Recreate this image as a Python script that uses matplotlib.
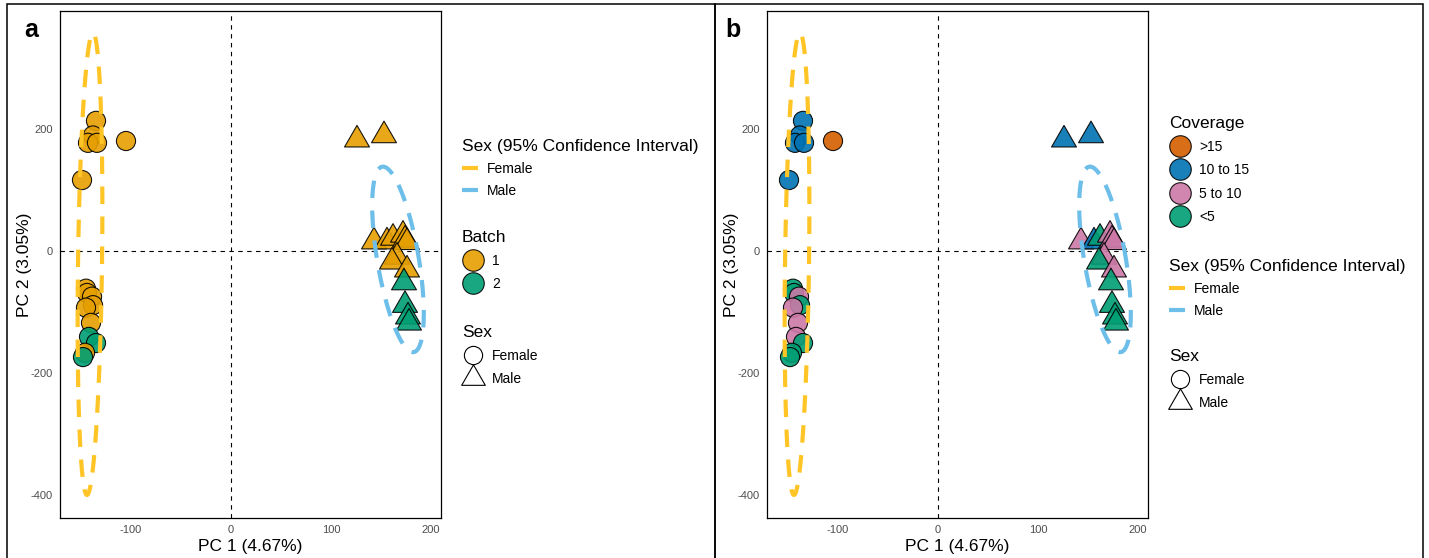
import numpy as np
import matplotlib
matplotlib.use('Agg')
import matplotlib.pyplot as plt
from matplotlib.lines import Line2D
from matplotlib.path import Path
from matplotlib.patches import Rectangle

plt.rcParams['font.family'] = ['Liberation Sans', 'DejaVu Sans']
plt.rcParams['axes.unicode_minus'] = False

W, H = 1429, 558

# samples (PC scores)
pc1 = [-135, -138, -143, -134, -105, -149, -145, -144, -139, -138, -145, -140, -142, -135, -146, -148,
       126, 153, 143, 156, 162, 172, 174, 176, 166, 161, 176, 173, 174, 177, 178]
pc2 = [213, 189, 177, 177, 180, 116, -62, -69, -75, -89, -93, -118, -141, -151, -167, -174,
       182, 189, 15, 15, 21, 26, 18, 14, -10, -18, -31, -52, -89, -108, -118]
sex = ['Female'] * 16 + ['Male'] * 15
batch = ['1', '1', '1', '1', '1', '1', '1', '1', '1', '1', '1', '1', '2', '2', '1', '2',
         '1', '1', '1', '1', '1', '1', '1', '1', '1', '1', '1', '2', '2', '2', '2']
coverage = ['10 to 15', '10 to 15', '10 to 15', '10 to 15', '>15', '10 to 15', '<5', '<5',
            '5 to 10', '<5', '5 to 10', '5 to 10', '5 to 10', '<5', '<5', '<5',
            '10 to 15', '10 to 15', '5 to 10', '10 to 15', '<5', '5 to 10', '5 to 10', '5 to 10',
            '5 to 10', '<5', '5 to 10', '<5', '<5', '<5', '<5']

batch_levels = ['1', '2']
batch_colors = ['#E69F00', '#009E73']
coverage_levels = ['>15', '10 to 15', '5 to 10', '<5']
coverage_colors = ['#D55E00', '#0072B2', '#CC79A7', '#009E73']
sex_levels = ['Female', 'Male']
ci_colors = ['#FFC425', '#6DBFEA']

# 95% ellipses: centre, half-axes and shear (data units)
ell_cx = [-141, 167]
ell_cy = [-21.5, -14]
ell_rx = [12, 21]
ell_ry = [378.5, 152]
ell_sx = [3, -15]

x_ticks = [-100, 0, 100, 200]
y_ticks = [-400, -200, 0, 200]
xlabel = 'PC 1 (4.67%)'
ylabel = 'PC 2 (3.05%)'

tri = Path([(-1, -0.577), (1, -0.577), (0, 1.155), (-1, -0.577)],
           [Path.MOVETO, Path.LINETO, Path.LINETO, Path.CLOSEPOLY])
shape = {'Female': 'o', 'Male': tri}
size = {'Female': 190, 'Male': 430}
msize = {'Female': 13.8, 'Male': 20.7}


def draw_panel(ax, levels, colors, group):
    lut = dict(zip(levels, colors))
    for s in sex_levels:
        idx = [i for i in range(len(pc1)) if sex[i] == s]
        ax.scatter([pc1[i] for i in idx], [pc2[i] for i in idx], s=size[s], marker=shape[s],
                   c=[lut[group[i]] for i in idx], edgecolors='black', linewidths=0.8,
                   alpha=0.9, zorder=3)
    t = np.linspace(0, 2 * np.pi, 300)
    for k in range(len(sex_levels)):
        ex = ell_cx[k] + ell_rx[k] * np.cos(t) + ell_sx[k] * np.sin(t)
        ey = ell_cy[k] + ell_ry[k] * np.sin(t)
        ax.plot(ex, ey, color=ci_colors[k], lw=3, dashes=(4.2, 3), dash_capstyle='butt', zorder=4)
    ax.axhline(0, color='black', lw=0.8, ls=(0, (4, 4)), zorder=1)
    ax.axvline(0, color='black', lw=0.8, ls=(0, (4, 4)), zorder=1)
    ax.set_xlim(-171, 210)
    ax.set_ylim(-437.7, 393)
    ax.set_xticks(x_ticks)
    ax.set_yticks(y_ticks)
    ax.tick_params(length=0, pad=5, labelsize=8, labelcolor='#4D4D4D')
    for sp in ax.spines.values():
        sp.set_linewidth(0.9)
    ax.set_xlabel(xlabel, fontsize=12.5, labelpad=3)
    ax.set_ylabel(ylabel, fontsize=12.5)
    ax.yaxis.set_label_coords(-28 / 381, 0.5)


def add_legend(fig, handles, labels, title, x_px, y_px, hl, pad, spacing):
    fig.legend(handles, labels, title=title, loc='upper left',
               bbox_to_anchor=(x_px / W, 1 - y_px / H), bbox_transform=fig.transFigure,
               frameon=False, fontsize=10, title_fontsize=12.5, alignment='left',
               borderpad=0, borderaxespad=0, handlelength=hl, handletextpad=pad,
               labelspacing=spacing)


def ci_handles():
    return [Line2D([], [], color=c, lw=3, solid_capstyle='butt') for c in ci_colors]


def fill_handles(colors):
    return [Line2D([], [], ls='none', marker='o', markersize=15.5, markerfacecolor=c,
                   markeredgecolor='black', markeredgewidth=0.8, alpha=0.9) for c in colors]


def sex_handles():
    return [Line2D([], [], ls='none', marker=shape[s], markersize=msize[s] * 0.95,
                   markerfacecolor='white', markeredgecolor='black', markeredgewidth=0.8)
            for s in sex_levels]


fig = plt.figure(figsize=(W / 100, H / 100), dpi=100)
ax_a = fig.add_axes([60 / W, 1 - 518 / H, 381 / W, 507 / H])
ax_b = fig.add_axes([767 / W, 1 - 518 / H, 381 / W, 507 / H])

draw_panel(ax_a, batch_levels, batch_colors, batch)
draw_panel(ax_b, coverage_levels, coverage_colors, coverage)

ci_title = 'Sex (95% Confidence Interval)'
add_legend(fig, ci_handles(), sex_levels, ci_title, 462, 139, 1.15, 0.65, 0.58)
add_legend(fig, fill_handles(batch_colors), batch_levels, 'Batch', 462, 230, 1.58, 0.58, 0.66)
add_legend(fig, sex_handles(), sex_levels, 'Sex', 462, 325, 1.58, 0.58, 0.66)

add_legend(fig, fill_handles(coverage_colors), coverage_levels, 'Coverage', 1169, 116, 1.58, 0.58, 0.66)
add_legend(fig, ci_handles(), sex_levels, ci_title, 1169, 259, 1.15, 0.65, 0.58)
add_legend(fig, sex_handles(), sex_levels, 'Sex', 1169, 349, 1.58, 0.58, 0.66)

for x0 in [7, 715]:
    fig.add_artist(Rectangle((x0 / W, -0.1), 708 / W, 1.1 - 4 / H, transform=fig.transFigure,
                             fill=False, edgecolor='black', lw=1.1, clip_on=False))

fig.text(31 / W, 1 - 30 / H, 'a', fontsize=18, fontweight='bold', ha='center', va='center')
fig.text(733 / W, 1 - 30 / H, 'b', fontsize=18, fontweight='bold', ha='center', va='center')

plt.savefig('out.png', dpi=100)
